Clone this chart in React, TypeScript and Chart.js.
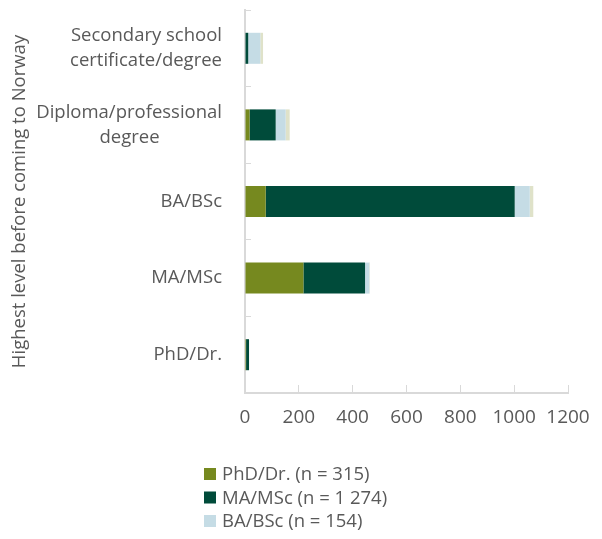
import { useEffect, useRef } from "react";
import { Chart, registerables } from "chart.js";

Chart.register(...registerables);

const categories: (string | string[])[] = [
  ["Secondary school", "certificate/degree"],
  ["Diploma/professional", "degree"],
  "BA/BSc",
  "MA/MSc",
  "PhD/Dr.",
];
const seriesLabels = ["PhD/Dr. (n = 315)", "MA/MSc (n = 1 274)", "BA/BSc (n = 154)", "Other"];
const phdValues = [0, 17, 77, 217, 4];
const maValues = [12, 97, 925, 229, 11];
const baValues = [45, 37, 56, 16, 0];
const otherValues = [10, 15, 13, 2, 0];
const xTickValues = [0, 200, 400, 600, 800, 1000, 1200];
const axisTitle = "Highest level before coming to Norway";

const colors = ["#76891f", "#004b3a", "#c5dce5", "#dfe2c9"];
const TEXT = "#595959";
const LINE = "#d9d9d9";
const FONT = '"Open Sans", "DejaVu Sans", sans-serif';
const CAT_SIZE = 18.5;
const TITLE_SIZE = 18.5;
const TICK_SIZE = 19;
const LEGEND_SIZE = 18.5;

const measureCtx = typeof document !== "undefined" ? document.createElement("canvas").getContext("2d") : null;

function centerLines(label: string | string[]): string | string[] {
  if (!Array.isArray(label) || !measureCtx) return label;
  measureCtx.font = `${CAT_SIZE}px ${FONT}`;
  const widths = label.map((l) => measureCtx.measureText(l).width);
  const max = Math.max(...widths);
  const sp = measureCtx.measureText(" ").width || 4;
  return label.map((l, i) => l + " ".repeat(Math.max(0, Math.round((max - widths[i]) / 2 / sp))));
}

const legendPlugin = {
  id: "columnLegend",
  afterDraw(chart: any) {
    const ctx = chart.ctx;
    const x = 196;
    const top = 466;
    const row = 23.5;
    ctx.save();
    ctx.font = `${LEGEND_SIZE}px ${FONT}`;
    ctx.textBaseline = "middle";
    ctx.textAlign = "left";
    [0, 1, 2].forEach((di, r) => {
      const ds = chart.data.datasets[di];
      const y = top + r * row;
      ctx.fillStyle = ds.backgroundColor;
      ctx.fillRect(x, y - 6, 12, 12);
      ctx.fillStyle = TEXT;
      ctx.fillText(ds.label, x + 18, y + 1);
    });
    ctx.restore();
  },
};

export default function App() {
  const ref = useRef<HTMLCanvasElement | null>(null);

  useEffect(() => {
    if (!ref.current) return;
    document.body.style.overflow = "hidden";
    const valueSets = [phdValues, maValues, baValues, otherValues];
    const chart = new Chart(ref.current, {
      type: "bar",
      data: {
        labels: categories as any,
        datasets: valueSets.map((vals, i) => ({
          label: seriesLabels[i],
          data: vals,
          backgroundColor: colors[i],
          borderWidth: 0,
          barPercentage: 0.405,
          categoryPercentage: 1,
        })),
      },
      options: {
        indexAxis: "y",
        animation: false,
        responsive: true,
        maintainAspectRatio: false,
        layout: { padding: { top: 2, right: 26, bottom: 86, left: 0 } },
        plugins: {
          legend: { display: false },
          tooltip: { enabled: false },
        },
        scales: {
          x: {
            stacked: true,
            min: 0,
            max: 1200,
            afterBuildTicks: (scale: any) => {
              scale.ticks = xTickValues.map((v) => ({ value: v }));
            },
            afterFit: (scale: any) => {
              scale.height = 60;
              scale.paddingLeft = 0;
              scale.paddingRight = 0;
            },
            grid: {
              drawOnChartArea: false,
              drawTicks: true,
              tickLength: -8,
              color: LINE,
              lineWidth: 1,
            },
            border: { display: true, color: LINE, width: 2 },
            ticks: {
              color: TEXT,
              font: { family: FONT, size: TICK_SIZE },
              padding: 21,
              maxRotation: 0,
              autoSkip: false,
              callback: (v: any) => String(v),
            },
          },
          y: {
            stacked: true,
            afterFit: (scale: any) => {
              scale.width = 237;
              scale.paddingTop = 0;
              scale.paddingBottom = 0;
            },
            grid: {
              offset: true,
              drawOnChartArea: false,
              drawTicks: true,
              tickLength: -6,
              color: LINE,
              lineWidth: 1,
            },
            border: { display: true, color: LINE, width: 2 },
            ticks: {
              color: TEXT,
              font: { family: FONT, size: CAT_SIZE, lineHeight: 1.35 },
              padding: 29,
              autoSkip: false,
              callback: (_v: any, i: number) => centerLines(categories[i]),
            },
            title: {
              display: true,
              text: axisTitle,
              color: TEXT,
              font: { family: FONT, size: TITLE_SIZE },
              padding: { top: 1, bottom: 0 },
            },
          },
        },
      },
      plugins: [legendPlugin],
    });
    return () => chart.destroy();
  }, []);

  return (
    <div style={{ position: "relative", width: "100%", height: 531, marginBottom: -8 }}>
      <canvas ref={ref} />
    </div>
  );
}
